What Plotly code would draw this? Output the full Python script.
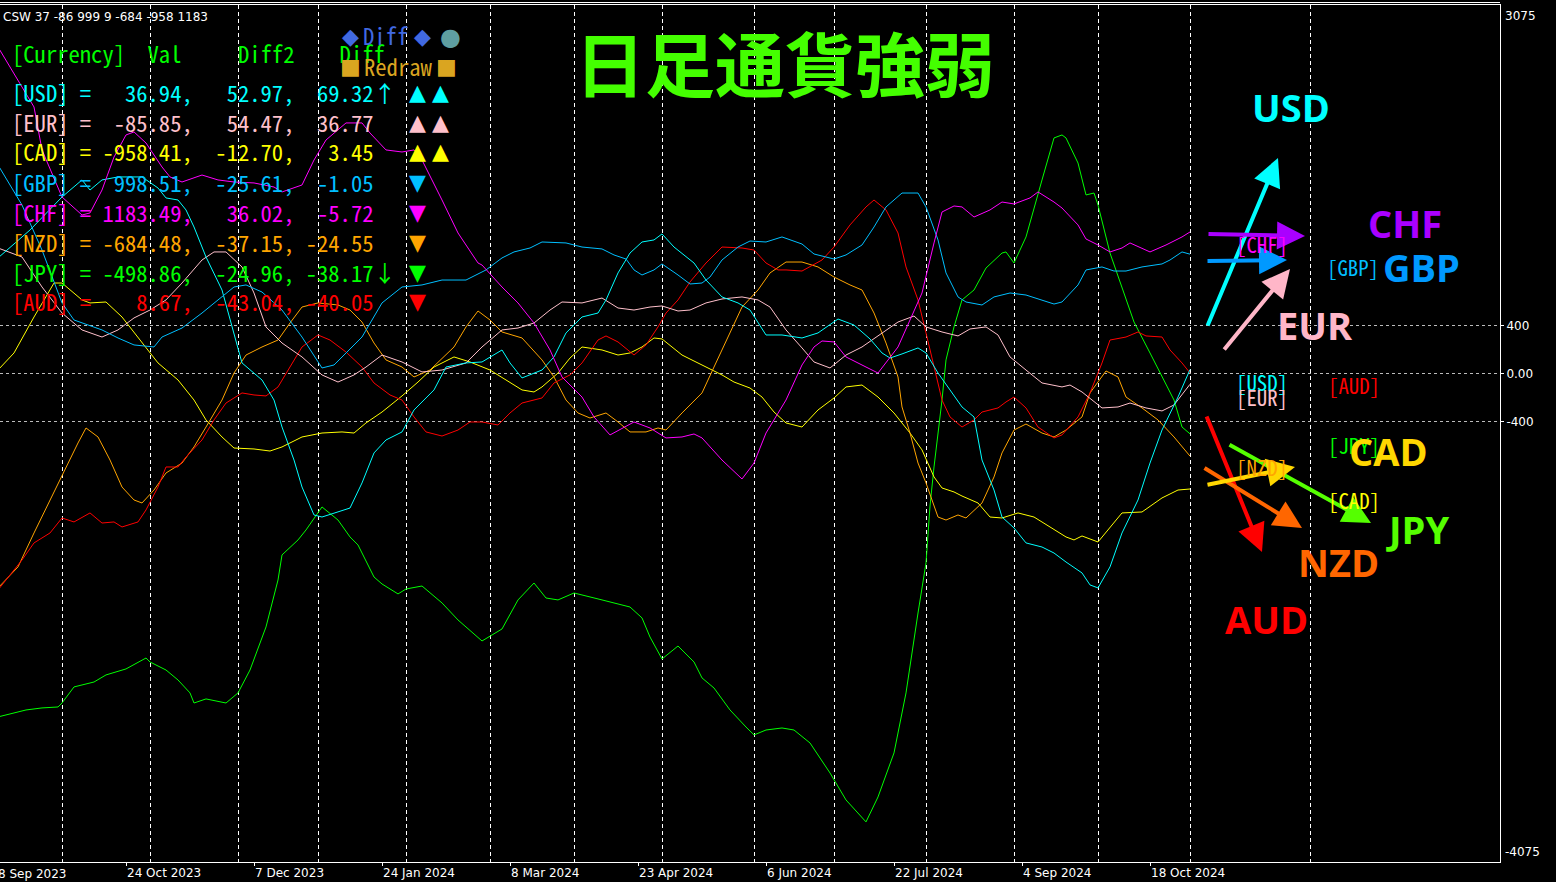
import plotly.graph_objects as go

# ---------------- data (bar index = trading day since 8 Sep 2023) ----------------
usd_bar = [0, 8, 16, 21, 23, 26, 30, 36, 40, 42, 45, 47, 49, 52, 56, 59, 61, 66, 69, 71, 74, 76, 79, 81, 88, 91, 94, 97, 101, 104, 109, 112, 117, 121, 126, 128, 131, 136, 139, 142, 146, 150, 152, 155, 158, 161, 164, 166, 169, 174, 177, 181, 185, 188, 192, 196, 201, 205, 210, 214, 218, 221, 223, 226, 230, 232, 235, 238, 241, 244, 246, 249, 251, 254, 257, 261, 264, 267, 271, 273, 275, 278, 281, 285, 288, 291, 295, 298]
usd_val = [967, 1200, 1475, 1617, 1533, 1617, 1642, 1642, 1550, 1467, 1450, 1367, 1225, 975, 700, 342, 92, -50, -217, -442, -717, -942, -1175, -1192, -1117, -908, -658, -550, -483, -300, -133, 58, 92, 100, 200, 92, -33, 33, 142, 342, 475, 508, 617, 842, 1008, 1100, 1117, 1167, 1058, 925, 783, 642, 592, 533, 325, 325, 300, 342, 458, 408, 292, 175, 133, 167, 217, 175, 8, -133, -275, -358, -717, -967, -1192, -1283, -1408, -1442, -1492, -1567, -1658, -1758, -1783, -1608, -1325, -1050, -742, -467, -192, 36.94]

eur_bar = [0, 6, 11, 16, 21, 26, 30, 34, 38, 42, 46, 51, 54, 57, 61, 64, 67, 71, 76, 81, 85, 89, 92, 96, 101, 106, 111, 117, 121, 126, 130, 134, 138, 141, 146, 151, 155, 159, 163, 166, 170, 173, 177, 181, 186, 190, 193, 197, 201, 204, 208, 212, 216, 221, 225, 229, 232, 236, 240, 243, 247, 250, 253, 257, 261, 266, 268, 271, 276, 280, 283, 287, 291, 294, 298]
eur_val = [1050, 975, 725, 508, 367, 308, 367, 467, 533, 617, 758, 950, 1017, 1017, 892, 675, 392, 258, 142, -8, -67, -8, 58, 158, 100, 17, 33, 92, 225, 367, 383, 425, 533, 600, 592, 633, 550, 533, 558, 567, 525, 533, 592, 625, 642, 617, 558, 367, 217, 100, 50, 158, 225, 342, 433, 483, 392, 350, 317, 375, 392, 325, 142, 33, -75, -108, -92, -150, -283, -275, -242, -283, -308, -258, -85.85]

cad_bar = [0, 4, 9, 14, 16, 21, 23, 27, 31, 36, 40, 45, 49, 52, 56, 59, 64, 68, 71, 76, 81, 86, 89, 92, 96, 101, 105, 109, 114, 118, 123, 127, 131, 134, 136, 140, 143, 146, 151, 155, 158, 161, 164, 166, 171, 174, 176, 181, 184, 188, 191, 194, 197, 201, 205, 209, 212, 216, 220, 224, 228, 231, 234, 236, 239, 241, 245, 248, 251, 255, 259, 263, 267, 269, 271, 275, 278, 281, 286, 291, 295, 298]
cad_val = [33, 175, 475, 758, 758, 617, 592, 600, 475, 258, 92, -50, -217, -383, -525, -617, -625, -642, -608, -525, -492, -483, -492, -408, -317, -183, -67, 58, 142, 100, 33, -50, -133, -150, -108, 8, 133, 225, 200, 158, 175, 225, 300, 292, 158, 108, 75, -8, -67, -117, -192, -317, -408, -442, -300, -200, -108, -92, -192, -325, -492, -633, -858, -950, -983, -1017, -1075, -1192, -1200, -1158, -1192, -1275, -1358, -1383, -1350, -1400, -1275, -1158, -1150, -1033, -967, -958.41]

gbp_bar = [0, 6, 11, 16, 19, 21, 26, 30, 34, 39, 41, 46, 51, 55, 59, 62, 66, 71, 76, 81, 84, 91, 96, 101, 106, 111, 117, 122, 126, 129, 133, 136, 142, 146, 151, 154, 157, 159, 161, 164, 166, 170, 173, 176, 178, 181, 185, 188, 192, 196, 201, 204, 209, 212, 216, 219, 222, 226, 230, 232, 235, 237, 240, 242, 246, 249, 253, 257, 261, 264, 266, 270, 272, 276, 279, 282, 286, 291, 293, 296, 298]
gbp_val = [1742, 1408, 1033, 592, 450, 425, 367, 300, 242, 225, 308, 383, 508, 617, 725, 742, 683, 533, 308, 50, 75, 308, 592, 725, 742, 783, 783, 867, 967, 1017, 1050, 1100, 1092, 1058, 1042, 992, 958, 867, 825, 867, 917, 825, 750, 758, 808, 950, 1058, 1108, 1100, 1142, 1083, 1000, 958, 992, 1075, 1225, 1392, 1508, 1508, 1392, 1117, 842, 642, 600, 575, 642, 675, 658, 617, 583, 600, 742, 867, 892, 858, 858, 892, 917, 950, 1017, 998.51]

chf_bar = [0, 9, 11, 16, 21, 23, 26, 29, 32, 34, 37, 41, 43, 46, 51, 55, 59, 64, 69, 71, 76, 79, 82, 87, 91, 93, 97, 101, 104, 106, 111, 115, 120, 121, 126, 130, 134, 138, 141, 146, 149, 153, 159, 163, 167, 171, 174, 176, 181, 186, 189, 192, 197, 201, 204, 206, 209, 212, 217, 220, 225, 228, 231, 234, 236, 239, 241, 244, 248, 251, 254, 258, 260, 264, 266, 270, 272, 275, 278, 281, 283, 288, 292, 296, 298]
chf_val = [2725, 2225, 1867, 1475, 1325, 1342, 1533, 1808, 1992, 2017, 1925, 1725, 1642, 1600, 1658, 1617, 1600, 1592, 1558, 1517, 1575, 1783, 1950, 2092, 2092, 2008, 1867, 1850, 1867, 1783, 1450, 1175, 925, 908, 725, 592, 425, 200, -25, -192, -358, -508, -400, -450, -533, -525, -500, -533, -717, -875, -742, -492, -217, 75, 225, 275, 267, 142, 58, 8, 225, 450, 675, 1092, 1350, 1400, 1392, 1308, 1367, 1433, 1417, 1467, 1517, 1433, 1383, 1242, 1125, 1075, 1017, 1050, 1092, 1017, 1075, 1142, 1183.49]

nzd_bar = [0, 5, 9, 13, 17, 20, 22, 25, 28, 31, 34, 36, 39, 42, 46, 49, 52, 56, 59, 62, 66, 70, 73, 76, 80, 85, 88, 91, 94, 97, 101, 104, 108, 111, 114, 117, 120, 123, 126, 131, 136, 139, 142, 145, 148, 152, 155, 158, 162, 165, 167, 171, 176, 179, 183, 186, 190, 193, 197, 201, 205, 209, 213, 216, 219, 222, 225, 226, 228, 230, 232, 235, 237, 240, 242, 246, 249, 251, 254, 257, 261, 264, 267, 271, 273, 277, 280, 282, 286, 290, 294, 298]
nzd_val = [-1783, -1608, -1325, -1050, -775, -575, -450, -525, -717, -942, -1050, -1075, -967, -825, -742, -608, -442, -217, 8, 158, 225, 283, 425, 558, 592, 575, 533, 433, 258, 117, 58, -25, 33, 133, 225, 392, 525, 450, 350, 300, 117, -25, -217, -325, -367, -325, -400, -483, -483, -450, -467, -325, -158, 58, 342, 558, 700, 842, 933, 933, 892, 808, 742, 700, 508, 258, -25, -275, -492, -742, -908, -1192, -1217, -1175, -1200, -1075, -858, -658, -467, -417, -492, -525, -467, -358, -158, 25, -25, -192, -283, -383, -525, -684.48]

jpy_bar = [0, 7, 11, 15, 16, 19, 24, 27, 32, 37, 38, 42, 45, 48, 49, 52, 57, 60, 63, 67, 70, 71, 75, 77, 81, 85, 88, 90, 94, 96, 100, 102, 106, 111, 115, 121, 126, 130, 134, 137, 140, 144, 151, 158, 161, 163, 166, 170, 174, 176, 179, 183, 187, 189, 192, 196, 199, 203, 208, 212, 217, 220, 224, 227, 230, 232, 233, 234, 236, 237, 239, 241, 244, 247, 251, 252, 254, 257, 261, 264, 266, 267, 270, 272, 274, 275, 278, 281, 284, 288, 291, 294, 296, 298]
jpy_val = [-2858, -2800, -2783, -2775, -2742, -2608, -2567, -2508, -2458, -2367, -2400, -2467, -2550, -2658, -2742, -2708, -2742, -2658, -2467, -2108, -1717, -1508, -1383, -1300, -1108, -1217, -1358, -1425, -1692, -1750, -1833, -1792, -1767, -1908, -2050, -2225, -2125, -1883, -1742, -1867, -1883, -1825, -1883, -1942, -2033, -2192, -2375, -2267, -2400, -2533, -2617, -2800, -2942, -3008, -2967, -2950, -2967, -3075, -3325, -3550, -3733, -3525, -3158, -2658, -1992, -1575, -1100, -775, -217, 117, 392, 617, 700, 883, 1008, 1017, 925, 1142, 1617, 1967, 1992, 1967, 1758, 1492, 1508, 1408, 1008, 725, 433, 175, -25, -217, -442, -498.86]

aud_bar = [0, 6, 9, 13, 16, 19, 23, 26, 29, 31, 35, 37, 40, 42, 45, 47, 51, 54, 57, 61, 64, 67, 70, 73, 76, 80, 83, 87, 91, 94, 98, 101, 104, 107, 111, 115, 118, 121, 125, 128, 131, 136, 139, 143, 146, 150, 152, 155, 159, 162, 165, 167, 170, 173, 177, 181, 184, 186, 189, 192, 195, 197, 201, 206, 209, 213, 217, 219, 222, 225, 227, 230, 232, 234, 236, 238, 241, 244, 246, 250, 252, 254, 257, 260, 264, 266, 270, 273, 276, 278, 282, 285, 287, 291, 293, 296, 298]
aud_val = [-1800, -1550, -1408, -1325, -1200, -1233, -1158, -1242, -1233, -1275, -1233, -1133, -942, -775, -775, -692, -550, -383, -242, -158, -175, -183, -108, 58, 225, 325, 283, 183, 58, -75, -175, -217, -358, -483, -517, -467, -400, -400, -425, -325, -242, -200, -75, -8, 92, 283, 317, 267, 158, 242, 392, 508, 617, 767, 925, 1058, 1050, 1050, 1033, 925, 867, 867, 858, 950, 1058, 1242, 1392, 1450, 1367, 1175, 892, 617, 342, 58, -217, -358, -442, -383, -317, -283, -233, -192, -283, -442, -533, -508, -358, -158, 92, 283, 308, 350, 317, 308, 200, 92, 8.67]

currencies = ["USD", "EUR", "CAD", "GBP", "CHF", "NZD", "JPY", "AUD"]
line_colors = ["#00FFFF", "#FFC0CB", "#FFFF00", "#00BFFF", "#FF00FF", "#FFA500", "#00FF00", "#FF0000"]
diff2 = [52.97, 54.47, -12.70, -25.61, 36.02, -37.15, -24.96, -43.04]
diff = [69.32, 36.77, 3.45, -1.05, -5.72, -24.55, -38.17, -40.05]
trend_mark = ["↑", "", "", "", "", "", "↓", ""]
triangles = ["▲▲", "▲▲", "▲▲", "▼", "▼", "▼", "▼", "▼"]

tick_bars = [32, 64, 96, 128, 160, 192, 224, 256, 288]
tick_text = ["24 Oct 2023", "7 Dec 2023", "24 Jan 2024", "8 Mar 2024", "23 Apr 2024",
             "6 Jun 2024", "22 Jul 2024", "4 Sep 2024", "18 Oct 2024"]
first_label = "8 Sep 2023"
month_bars = [16, 38, 60, 80, 102, 123, 144, 166, 189, 209, 232, 254, 275, 298, 328]

arrow_colors = {"USD": "#00FFFF", "CHF": "#AA00FF", "GBP": "#0099FF", "EUR": "#FFB6C8",
                "CAD": "#FFD700", "JPY": "#55FF00", "NZD": "#FF6600", "AUD": "#FF0000"}

series = {
    "USD": (usd_bar, usd_val), "EUR": (eur_bar, eur_val), "CAD": (cad_bar, cad_val),
    "GBP": (gbp_bar, gbp_val), "CHF": (chf_bar, chf_val), "NZD": (nzd_bar, nzd_val),
    "JPY": (jpy_bar, jpy_val), "AUD": (aud_bar, aud_val),
}

# ---------------- figure ----------------
W, H = 1556, 882
L, R, T, B = 0, 56, 5, 20
PW, PH = W - L - R, H - T - B


def PX(px):
    return (px - L) / PW


def PY(py):
    return (H - B - py) / PH


fig = go.Figure()
draw_order = ["JPY", "CAD", "NZD", "AUD", "EUR", "USD", "GBP", "CHF"]
for cur in draw_order:
    xs, ys = series[cur]
    col = line_colors[currencies.index(cur)]
    fig.add_trace(go.Scatter(x=xs, y=ys, mode="lines", name=cur,
                             line=dict(color=col, width=1), hoverinfo="skip"))

ann = []
mono = "Noto Sans Mono CJK JP, DejaVu Sans Mono"
tsize = 22.6

vals_last = {c: series[c][1][-1] for c in currencies}
csw = "CSW " + " ".join(str(int(round(vals_last[c]))) for c in ["USD", "EUR", "GBP", "AUD", "NZD", "CAD", "CHF"])
ann.append(dict(text=csw, x=PX(1), y=PY(17), xanchor="left", yanchor="middle",
                font=dict(family="DejaVu Sans", size=12, color="white")))

ann.append(dict(text="[Currency]  Val     Diff2    Diff".replace(" ", "&nbsp;"), x=PX(10), y=PY(54),
                xanchor="left", yanchor="middle", font=dict(family=mono, size=tsize, color="#00FF00")))

ann.append(dict(text="◆", x=PX(350), y=PY(37), xanchor="center", yanchor="middle",
                font=dict(family="DejaVu Sans", size=22, color="#4169E1")))
ann.append(dict(text="Diff", x=PX(385), y=PY(36), xanchor="center", yanchor="middle",
                font=dict(family=mono, size=tsize, color="#4169E1")))
ann.append(dict(text="◆", x=PX(422), y=PY(37), xanchor="center", yanchor="middle",
                font=dict(family="DejaVu Sans", size=22, color="#4169E1")))
ann.append(dict(text="●", x=PX(450), y=PY(37), xanchor="center", yanchor="middle",
                font=dict(family="DejaVu Sans", size=24, color="#5F9EA0")))
ann.append(dict(text="■", x=PX(350), y=PY(66), xanchor="center", yanchor="middle",
                font=dict(family="DejaVu Sans", size=22, color="#DAA520")))
ann.append(dict(text="Redraw", x=PX(398), y=PY(66), xanchor="center", yanchor="middle",
                font=dict(family=mono, size=tsize, color="#DAA520")))
ann.append(dict(text="■", x=PX(446), y=PY(66), xanchor="center", yanchor="middle",
                font=dict(family="DejaVu Sans", size=22, color="#DAA520")))

for i, cur in enumerate(currencies):
    yc = 92 + 30 * i
    row = f"[{cur}] = {vals_last[cur]:7.2f},{diff2[i]:8.2f},{diff[i]:7.2f}{trend_mark[i]}"
    ann.append(dict(text=row.replace(" ", "&nbsp;"), x=PX(10), y=PY(yc), xanchor="left", yanchor="middle",
                    font=dict(family=mono, size=tsize, color=line_colors[i])))
    for k, tri in enumerate(triangles[i]):
        ann.append(dict(text=tri, x=PX(417 + 23 * k), y=PY(yc), xanchor="center", yanchor="middle",
                        font=dict(family="DejaVu Sans", size=22, color=line_colors[i])))

ann.append(dict(text="<b>日足通貨強弱</b>", x=PX(785), y=PY(62), xanchor="center", yanchor="middle",
                font=dict(family="Noto Sans CJK JP", size=70, color="#44FF00")))

arrows = [("USD", 1207, 327, 1278, 158), ("CHF", 1207, 234, 1305, 236), ("GBP", 1206, 261, 1287, 260),
          ("EUR", 1223, 351, 1290, 269), ("AUD", 1206, 415, 1262, 552), ("JPY", 1228, 444, 1371, 523),
          ("NZD", 1203, 467, 1302, 528), ("CAD", 1206, 485, 1295, 467)]
for cur, tx, ty, hx, hy in arrows:
    ann.append(dict(text="", x=PX(hx), y=PY(hy), ax=tx - hx, ay=ty - hy, showarrow=True,
                    arrowhead=2, arrowsize=1.4, arrowwidth=4, arrowcolor=arrow_colors[cur], standoff=0))

brackets = [("CHF", 1262, 244), ("GBP", 1353, 267), ("USD", 1262, 382), ("EUR", 1262, 397),
            ("AUD", 1354, 385), ("JPY", 1354, 445), ("NZD", 1262, 467), ("CAD", 1354, 500)]
for cur, bx, by in brackets:
    ann.append(dict(text=f"[{cur}]", x=PX(bx), y=PY(by), xanchor="center", yanchor="middle",
                    font=dict(family=mono, size=20.8, color=line_colors[currencies.index(cur)])))

big = [("USD", 1291, 107), ("CHF", 1405, 223), ("GBP", 1421, 267), ("EUR", 1315, 325),
       ("CAD", 1388, 451), ("JPY", 1417, 529), ("NZD", 1338, 562), ("AUD", 1266, 619)]
for cur, lx, ly in big:
    ann.append(dict(text=f"<b>{cur}</b>", x=PX(lx), y=PY(ly), xanchor="center", yanchor="middle",
                    font=dict(family="Open Sans", size=38, color=arrow_colors[cur])))

ann.append(dict(text="3075", x=PX(1503), y=PY(16), xanchor="left", yanchor="middle",
                font=dict(family="DejaVu Sans", size=12, color="white")))
ann.append(dict(text="-4075", x=PX(1503), y=PY(852), xanchor="left", yanchor="middle",
                font=dict(family="DejaVu Sans", size=12, color="white")))
ann.append(dict(text=first_label, x=PX(-4), y=PY(874), xanchor="left", yanchor="middle",
                font=dict(family="DejaVu Sans", size=12, color="white")))

for a in ann:
    a.setdefault("xref", "paper")
    a.setdefault("yref", "paper")
    a.setdefault("showarrow", False)

fig.update_layout(
    width=W, height=H, margin=dict(l=L, r=R, t=T, b=B),
    paper_bgcolor="black", plot_bgcolor="black", showlegend=False,
    annotations=ann,
    shapes=[dict(type="line", xref="paper", yref="paper", x0=0, x1=1, y0=PY(2.5), y1=PY(2.5),
                 line=dict(color="white", width=1))],
    xaxis=dict(range=[0.5, 375.5], tickmode="array", tickvals=tick_bars, ticktext=tick_text,
               ticklabelposition="outside right", ticks="outside", ticklen=3, tickcolor="white",
               showgrid=False, zeroline=False, showline=True, linecolor="white", linewidth=1, mirror=True,
               tickfont=dict(family="DejaVu Sans", size=12, color="white"),
               minor=dict(tickmode="array", tickvals=month_bars, showgrid=True, gridcolor="white",
                          griddash="4px,3px", gridwidth=1, ticks="")),
    yaxis=dict(side="right", range=[-4067, 3075], tickmode="array", tickvals=[400, 0, -400],
               ticktext=["400", "0.00", "-400"], showgrid=True, gridcolor="#BBBBBB", griddash="3px,3px",
               gridwidth=1, zeroline=False, showline=True, linecolor="white", linewidth=1,
               ticks="outside", ticklen=3, tickcolor="white",
               tickfont=dict(family="DejaVu Sans", size=12, color="white")),
)

fig.write_html("out.html", config={"displayModeBar": False},
               post_script="document.body.style.margin='0px';document.body.style.overflow='hidden';")
